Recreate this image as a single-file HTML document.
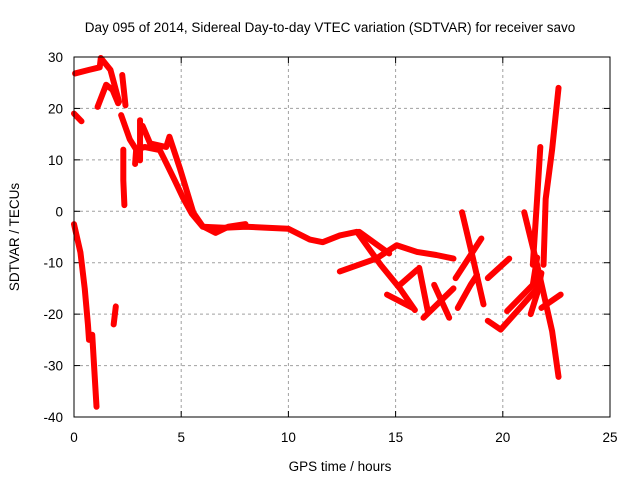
<!DOCTYPE html>
<html><head><meta charset="utf-8"><style>
body{margin:0;background:#fff;}
svg{display:block;font-family:"Liberation Sans",sans-serif;}
</style></head><body>
<svg id="chart" width="640" height="480">
<text x="330" y="32" font-size="13.5" text-anchor="middle">Day 095 of 2014, Sidereal Day-to-day VTEC variation (SDTVAR) for receiver savo</text>
<g id="grid"></g>
<g id="ticks"></g>
<g id="series"></g>
<rect x="74" y="57" width="536" height="360" fill="none" stroke="#000" stroke-width="1"/>
<text x="340" y="471" font-size="13.5" text-anchor="middle">GPS time / hours</text>
<text x="19" y="237" font-size="13.5" text-anchor="middle" transform="rotate(-90 19 237)">SDTVAR / TECUs</text>
</svg>
<script>
const xTicks=[0,5,10,15,20,25];
const yTicks=[-40,-30,-20,-10,0,10,20,30];
const track1=[[0,19],[0.35,17.5]];
const track2=[[0,-2.5],[0.3,-8],[0.5,-15],[0.65,-22],[0.7,-25]];
const track3=[[0.85,-24],[0.95,-31],[1.05,-38]];
const track4=[[0.05,26.8],[0.7,27.5],[1.2,28],[1.25,29.8],[1.7,27.5],[2.1,21.3]];
const track5=[[1.1,20.3],[1.5,24.6],[1.8,23.6],[2.06,21]];
const track6=[[2.25,26.5],[2.4,20.6]];
const track7=[[1.85,-22],[1.95,-18.5]];
const track8=[[2.3,12],[2.3,6],[2.35,1.2]];
const track9=[[2.2,18.7],[2.6,14],[2.9,12],[3.3,12.5],[4,11.9],[4.3,9.4],[4.7,6],[5.1,2.5],[5.5,-0.5],[6,-3],[7,-3.2],[8,-3],[9,-3.2],[10,-3.4],[11,-5.5],[11.6,-6],[12.4,-4.7],[13.2,-4],[14.3,-10.4],[15.2,-15],[15.9,-19.2]];
const track10=[[3.2,16.6],[3.55,13.2],[4.3,12.5],[4.45,14.5],[4.95,8.2],[5.57,-0.3],[6,-2.9],[6.6,-4.2],[7.2,-3],[8,-2.5]];
const track11=[[2.85,9.2],[2.9,12]];
const track11b=[[3.08,17.7],[3.08,9.9]];
const track12=[[12.4,-11.7],[14.1,-9.2],[15.05,-6.6],[16,-7.9],[16.9,-8.5],[17.7,-9.2]];
const track13=[[13.3,-4],[14.7,-8.2]];
const track14=[[14.6,-16.2],[15.8,-18.8]];
const track15=[[15.2,-14.3],[16,-11.4]];
const track16=[[16.1,-11],[16.5,-19.4]];
const track17=[[16.3,-20.7],[17.7,-15]];
const track18=[[16.8,-14.3],[17.5,-20.7]];
const track19=[[18.1,-0.2],[18.6,-9],[19.1,-18.1]];
const track20=[[17.8,-13],[19,-5.3]];
const track21=[[17.9,-18.8],[18.5,-14.3],[18.8,-12.4]];
const track22=[[19.3,-13],[20.3,-9.2]];
const track23=[[19.3,-21.3],[19.9,-23],[20.8,-18.8],[21.6,-15],[21.7,-13]];
const track24=[[21,-0.2],[21.6,-10.4],[22.3,-23.3],[22.6,-32.2]];
const track25=[[20.2,-19.4],[21.4,-14.3],[21.6,-9]];
const track26=[[21.8,-18.8],[22.7,-16.2]];
const track27=[[21.4,-10.4],[21.6,2.4],[21.75,12.5]];
const track28=[[21.9,-10.4],[22.0,2.4],[22.3,12],[22.6,24]];
const track29=[[21.3,-20],[21.6,-16],[21.8,-12]];
const tracks=[track1,track2,track3,track4,track5,track6,track7,track8,track9,track10,track11,track11b,track12,track13,track14,track15,track16,track17,track18,track19,track20,track21,track22,track23,track24,track25,track26,track27,track28,track29];

const NS='http://www.w3.org/2000/svg';
const X=t=>74+t/25*536;
const Y=v=>57+(30-v)/70*360;
function mk(tag,attrs,parent){const e=document.createElementNS(NS,tag);for(const k in attrs)e.setAttribute(k,attrs[k]);parent.appendChild(e);return e;}
const grid=document.getElementById('grid'),ticks=document.getElementById('ticks'),series=document.getElementById('series');
xTicks.forEach(t=>{
  if(t>0&&t<25){const g=mk('line',{x1:X(t),x2:X(t),y1:57,y2:417,stroke:'#a0a0a0','stroke-dasharray':'3,3'},grid);
  
  }
  mk('line',{x1:X(t),x2:X(t),y1:417,y2:411,stroke:'#000'},ticks);
  mk('line',{x1:X(t),x2:X(t),y1:57,y2:63,stroke:'#000'},ticks);
  const l=mk('text',{x:X(t),y:442,'font-size':13.5,'text-anchor':'middle'},ticks);l.textContent=t;
  
  
});
yTicks.forEach(v=>{
  if(v>-40&&v<30){const g=mk('line',{x1:74,x2:610,y1:Y(v),y2:Y(v),stroke:'#a0a0a0','stroke-dasharray':'3,3'},grid);
  
  }
  mk('line',{x1:74,x2:80,y1:Y(v),y2:Y(v),stroke:'#000'},ticks);
  mk('line',{x1:604,x2:610,y1:Y(v),y2:Y(v),stroke:'#000'},ticks);
  const l=mk('text',{x:63,y:Y(v)+5,'font-size':13.5,'text-anchor':'end'},ticks);l.textContent=v;
  
  
});
tracks.forEach(tr=>{
  const p=mk('polyline',{points:tr.map(d=>X(d[0])+','+Y(d[1])).join(' '),fill:'none',stroke:'#ff0000','stroke-width':6,'stroke-linejoin':'round','stroke-linecap':'round'},series);
  
  
});
</script>
</body></html>
